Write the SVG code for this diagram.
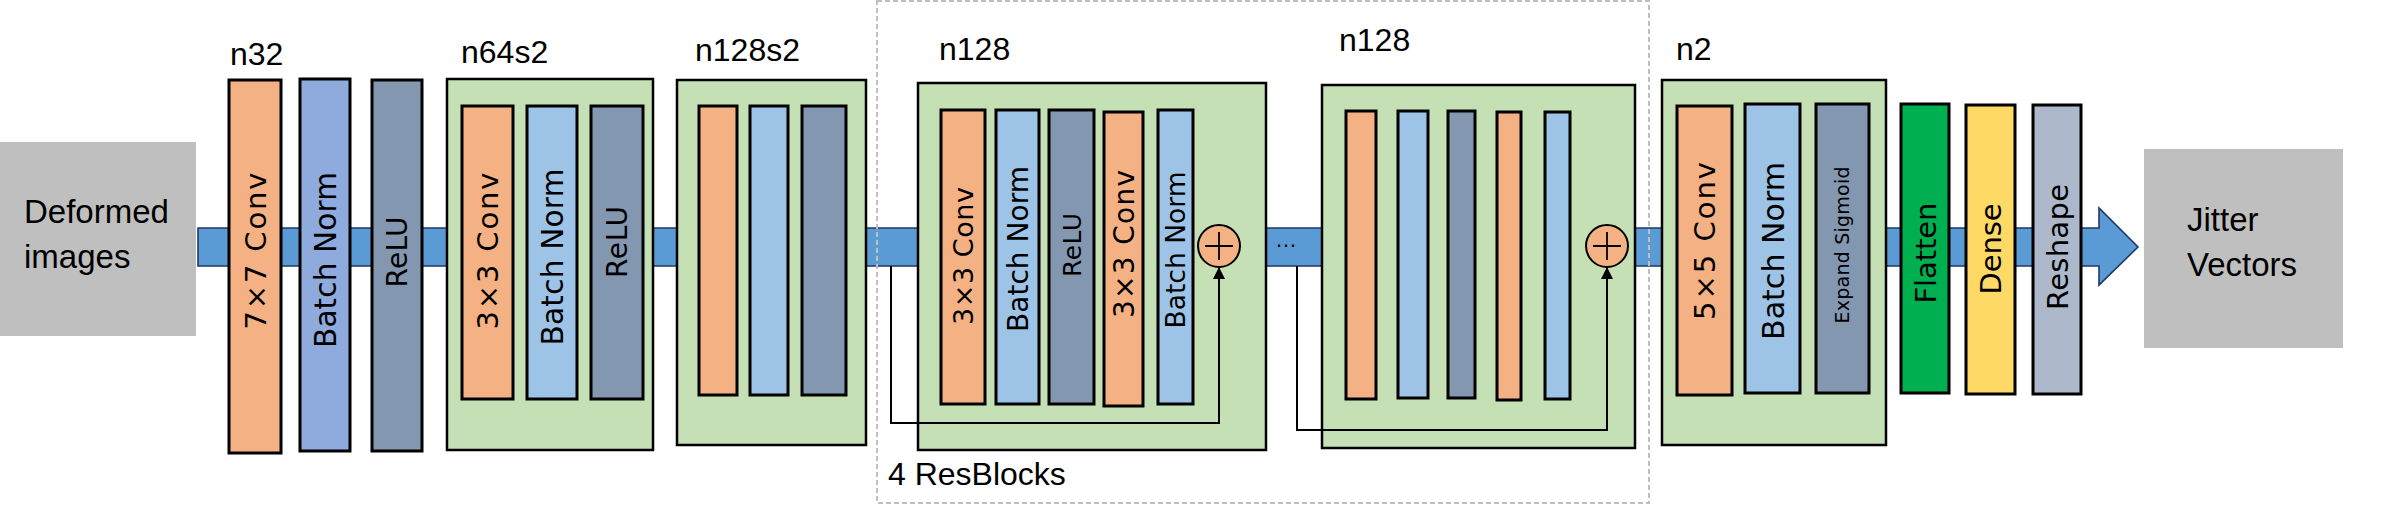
<svg xmlns="http://www.w3.org/2000/svg" width="2390" height="519" viewBox="0 0 2390 519">
<defs>
<style>
.bx{stroke:#000;stroke-width:3}
.grp{fill:#C5E0B4;stroke:#000;stroke-width:2.5}
.or{fill:#F4B183}
.bl{fill:#8FAADC}
.lb{fill:#9DC3E6}
.dk{fill:#8497B0}
.rl{font-family:"DejaVu Sans",Verdana,sans-serif;fill:#000;text-anchor:middle}
.ttl{font-family:"Liberation Sans",Arial,sans-serif;font-size:32px;fill:#000}
.io{fill:#BFBFBF}
.iot{font-family:"Liberation Sans",Arial,sans-serif;font-size:33px;fill:#000}
.skip{fill:none;stroke:#000;stroke-width:2}
.plus{stroke:#000;stroke-width:1.8}
</style>
<marker id="ah" viewBox="0 0 12 12" refX="11" refY="6" markerWidth="12" markerHeight="12" markerUnits="userSpaceOnUse" orient="auto">
<path d="M0,0 L12,6 L0,12 Z" fill="#000"/>
</marker>
</defs>
<rect width="2390" height="519" fill="#fff"/>

<g id="connectors-flow">
<path d="M198,228 H2099 V208 L2138,247 L2099,285 V266 H198 Z" fill="#5B9BD5" stroke="#1F3864" stroke-width="1.6"/>
<text x="1275" y="247" font-family="Liberation Sans,Arial,sans-serif" font-size="22" fill="#000">…</text>
</g>

<g id="input">
<rect class="io" x="0" y="142" width="196" height="194"/>
<text class="iot" x="24" y="223">Deformed</text>
<text class="iot" x="24" y="268">images</text>
</g>

<g id="n32">
<text class="ttl" x="230" y="65">n32</text>
<rect class="bx or" x="229" y="80" width="52" height="373"/>
<text class="rl" font-size="29" textLength="157" transform="translate(265.5,251) rotate(-90)">7×7 Conv</text>
<rect class="bx bl" x="300" y="79" width="50" height="372"/>
<text class="rl" font-size="29.5" textLength="176" transform="translate(335.5,260) rotate(-90)">Batch Norm</text>
<rect class="bx dk" x="372" y="80" width="50" height="371"/>
<text class="rl" font-size="28" textLength="71" transform="translate(407,252) rotate(-90)">ReLU</text>
</g>

<g id="n64s2">
<text class="ttl" x="461" y="63">n64s2</text>
<rect class="grp" x="447" y="79" width="206" height="371"/>
<rect class="bx or" x="462" y="106" width="51" height="293"/>
<text class="rl" font-size="29" textLength="157" transform="translate(498,251) rotate(-90)">3×3 Conv</text>
<rect class="bx lb" x="527" y="106" width="50" height="293"/>
<text class="rl" font-size="29.5" textLength="177" transform="translate(562.5,257) rotate(-90)">Batch Norm</text>
<rect class="bx dk" x="591" y="106" width="52" height="293"/>
<text class="rl" font-size="28" textLength="72" transform="translate(627,242) rotate(-90)">ReLU</text>
</g>

<g id="n128s2">
<text class="ttl" x="695" y="61">n128s2</text>
<rect class="grp" x="677" y="80" width="189" height="365"/>
<rect class="bx or" x="699" y="106" width="38" height="289"/>
<rect class="bx lb" x="750" y="106" width="38" height="289"/>
<rect class="bx dk" x="802" y="106" width="44" height="289"/>
</g>

<g id="resblocks">
<rect x="877" y="1" width="772" height="502" fill="none" stroke="#BFBFBF" stroke-width="2" stroke-dasharray="5 3"/>
<text class="ttl" x="888" y="485" font-size="31">4 ResBlocks</text>
</g>

<g id="resblock1">
<text class="ttl" x="939" y="60">n128</text>
<rect class="grp" x="918" y="83" width="348" height="367"/>
<rect class="bx or" x="941" y="110" width="44" height="294"/>
<text class="rl" font-size="27" textLength="138" transform="translate(972.5,256) rotate(-90)">3×3 Conv</text>
<rect class="bx lb" x="996" y="110" width="43" height="294"/>
<text class="rl" font-size="28" textLength="166" transform="translate(1027.5,249) rotate(-90)">Batch Norm</text>
<rect class="bx dk" x="1049" y="110" width="45" height="294"/>
<text class="rl" font-size="25" textLength="64" transform="translate(1080.5,245) rotate(-90)">ReLU</text>
<rect class="bx or" x="1104" y="112" width="39" height="294"/>
<text class="rl" font-size="28" textLength="148" transform="translate(1133.5,244) rotate(-90)">3×3 Conv</text>
<rect class="bx lb" x="1158" y="110" width="35" height="294"/>
<text class="rl" font-size="26.5" textLength="157" transform="translate(1185,250) rotate(-90)">Batch Norm</text>
</g>

<g id="resblock2">
<text class="ttl" x="1339" y="51">n128</text>
<rect class="grp" x="1322" y="85" width="313" height="363"/>
<rect class="bx or" x="1346" y="111" width="30" height="288"/>
<rect class="bx lb" x="1398" y="111" width="30" height="287"/>
<rect class="bx dk" x="1448" y="111" width="27" height="287"/>
<rect class="bx or" x="1497" y="112" width="24" height="288"/>
<rect class="bx lb" x="1545" y="112" width="25" height="287"/>
</g>

<g id="n2">
<text class="ttl" x="1676" y="60">n2</text>
<rect class="grp" x="1662" y="80" width="224" height="365"/>
<rect class="bx or" x="1677" y="106" width="55" height="289"/>
<text class="rl" font-size="29" textLength="158" transform="translate(1715,241) rotate(-90)">5×5 Conv</text>
<rect class="bx lb" x="1745" y="104" width="55" height="289"/>
<text class="rl" font-size="30" textLength="178" transform="translate(1783.5,251) rotate(-90)">Batch Norm</text>
<rect class="bx dk" x="1816" y="104" width="53" height="289"/>
<text class="rl" font-size="19" textLength="157" transform="translate(1849,245) rotate(-90)">Expand Sigmoid</text>
</g>

<g id="flatten">
<rect class="bx" fill="#00B050" x="1901" y="104" width="48" height="289"/>
<text class="rl" font-size="29" textLength="101" transform="translate(1936,253) rotate(-90)">Flatten</text>
</g>
<g id="dense">
<rect class="bx" fill="#FFD966" x="1966" y="105" width="49" height="289"/>
<text class="rl" font-size="29" textLength="91" transform="translate(2001,249) rotate(-90)">Dense</text>
</g>
<g id="reshape">
<rect class="bx" fill="#ADB9CA" x="2033" y="105" width="48" height="289"/>
<text class="rl" font-size="29" textLength="126" transform="translate(2067.5,247) rotate(-90)">Reshape</text>
</g>

<g id="output">
<rect class="io" x="2144" y="149" width="199" height="199"/>
<text class="iot" x="2187" y="231">Jitter</text>
<text class="iot" x="2187" y="276">Vectors</text>
</g>

<g id="connectors">
<path class="skip" d="M891,266 V423 H1219 V268" marker-end="url(#ah)"/>
<path class="skip" d="M1297,266 V430 H1607 V268" marker-end="url(#ah)"/>
</g>

<g id="add1">
<circle cx="1219" cy="246" r="21" fill="#F4B183" stroke="#000" stroke-width="2"/>
<path class="plus" d="M1205,246 H1233 M1219,232 V260"/>
</g>
<g id="add2">
<circle cx="1607" cy="246" r="21" fill="#F4B183" stroke="#000" stroke-width="2"/>
<path class="plus" d="M1593,246 H1621 M1607,232 V260"/>
</g>
</svg>
